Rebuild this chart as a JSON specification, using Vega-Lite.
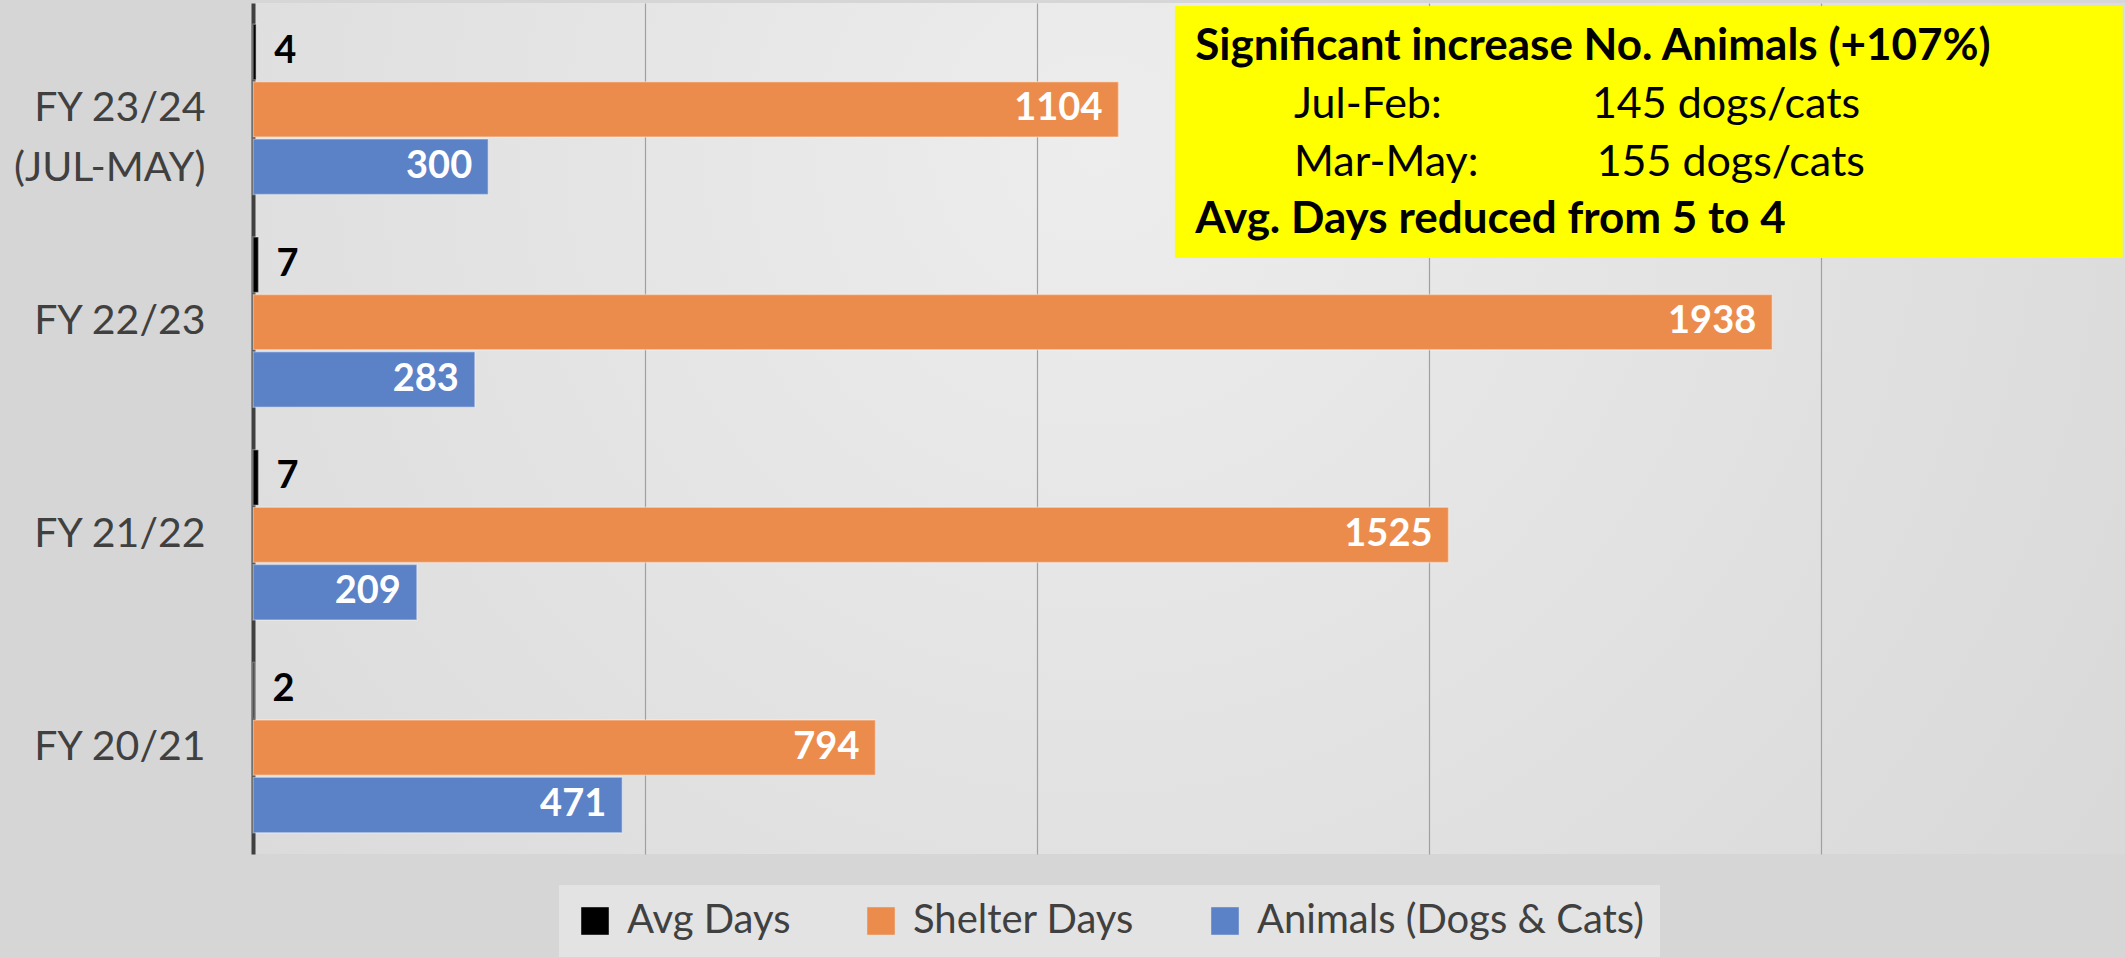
{
  "$schema": "https://vega.github.io/schema/vega-lite/v6.json",
  "width": 1872,
  "height": 851,
  "autosize": {"type": "none"},
  "padding": {"left": 253, "top": 3, "right": 0, "bottom": 104},
  "background": "#d6d6d6",
  "config": {
    "font": "Lato",
    "view": {
      "stroke": null,
      "fill": {
        "gradient": "radial",
        "x1": 0.45, "y1": 0.35, "r1": 0,
        "x2": 0.45, "y2": 0.35, "r2": 0.75,
        "stops": [
          {"offset": 0, "color": "#ededed"},
          {"offset": 1, "color": "#d6d6d6"}
        ]
      }
    }
  },
  "datasets": {
    "bars": [
      {"fy": "FY 23/24 (JUL-MAY)", "series": "Avg Days", "value": 4},
      {"fy": "FY 23/24 (JUL-MAY)", "series": "Shelter Days", "value": 1104},
      {"fy": "FY 23/24 (JUL-MAY)", "series": "Animals (Dogs & Cats)", "value": 300},
      {"fy": "FY 22/23", "series": "Avg Days", "value": 7},
      {"fy": "FY 22/23", "series": "Shelter Days", "value": 1938},
      {"fy": "FY 22/23", "series": "Animals (Dogs & Cats)", "value": 283},
      {"fy": "FY 21/22", "series": "Avg Days", "value": 7},
      {"fy": "FY 21/22", "series": "Shelter Days", "value": 1525},
      {"fy": "FY 21/22", "series": "Animals (Dogs & Cats)", "value": 209},
      {"fy": "FY 20/21", "series": "Avg Days", "value": 2},
      {"fy": "FY 20/21", "series": "Shelter Days", "value": 794},
      {"fy": "FY 20/21", "series": "Animals (Dogs & Cats)", "value": 471}
    ]
  },
  "resolve": {"scale": {"x": "independent", "y": "independent"}},
  "layer": [
    {
      "data": {"name": "bars"},
      "encoding": {
        "y": {
          "field": "fy",
          "type": "nominal",
          "sort": ["FY 23/24 (JUL-MAY)", "FY 22/23", "FY 21/22", "FY 20/21"],
          "scale": {"paddingInner": 0.2, "paddingOuter": 0.1},
          "axis": {
            "title": null,
            "ticks": false,
            "tickSize": 0,
            "labelPadding": 48,
            "labelLimit": 0,
            "labelFont": "Lato",
            "labelFontSize": 41,
            "labelColor": "#404040",
            "labelLineHeight": 60,
            "labelExpr": "datum.value == 'FY 23/24 (JUL-MAY)' ? ['FY 23/24', '(JUL-MAY)'] : datum.value",
            "domainColor": "#404040",
            "domainWidth": 4,
            "grid": false
          }
        },
        "yOffset": {
          "field": "series",
          "type": "nominal",
          "scale": {"domain": ["Avg Days", "Shelter Days", "Animals (Dogs & Cats)"], "paddingInner": 0.035}
        },
        "x": {
          "field": "value",
          "type": "quantitative",
          "scale": {"domain": [0, 2388], "nice": false},
          "axis": {
            "title": null,
            "labels": false,
            "ticks": false,
            "domain": false,
            "grid": true,
            "values": [500, 1000, 1500, 2000],
            "gridColor": "#a0a0a0",
            "gridWidth": 1.2
          }
        }
      },
      "layer": [
        {
          "mark": {"type": "bar", "stroke": "#ffffff", "strokeOpacity": 0.35, "strokeWidth": 1.5},
          "encoding": {
            "color": {
              "field": "series",
              "type": "nominal",
              "scale": {
                "domain": ["Avg Days", "Shelter Days", "Animals (Dogs & Cats)"],
                "range": ["#000000", "#EC8C4C", "#5B81C7"]
              },
              "legend": {
                "title": null,
                "orient": "none",
                "legendX": 306,
                "legendY": 882,
                "direction": "horizontal",
                "symbolType": "square",
                "symbolSize": 760,
                "symbolStrokeWidth": 0,
                "symbolOpacity": 1,
                "labelFont": "Lato",
                "labelFontSize": 40,
                "labelLimit": 0,
                "labelColor": "#404040",
                "labelOffset": 12,
                "columnPadding": 70,
                "padding": 16,
                "fillColor": "#e3e3e3"
              }
            }
          }
        },
        {
          "transform": [{"filter": "datum.series == 'Avg Days'"}],
          "mark": {"type": "text", "align": "left", "baseline": "middle", "dx": 18, "font": "Lato", "fontWeight": "bold", "fontSize": 38, "color": "#000000"},
          "encoding": {"text": {"field": "value", "type": "quantitative"}}
        },
        {
          "transform": [{"filter": "datum.series != 'Avg Days'"}],
          "mark": {"type": "text", "align": "right", "baseline": "middle", "dx": -16, "font": "Lato", "fontWeight": "bold", "fontSize": 38, "color": "#ffffff"},
          "encoding": {"text": {"field": "value", "type": "quantitative"}}
        }
      ]
    },
    {
      "data": {"values": [{}]},
      "encoding": {
        "x": {"datum": 1176, "type": "quantitative", "scale": {"domain": [0, 2388], "nice": false}, "axis": null},
        "y": {"datum": 99.65, "type": "quantitative", "scale": {"domain": [0, 100], "nice": false}, "axis": null}
      },
      "layer": [
        {
          "mark": {"type": "rect", "color": "#FFFF00", "opacity": 1},
          "encoding": {
            "x2": {"datum": 2385},
            "y2": {"datum": 70.04}
          }
        },
        {
          "mark": {"type": "text", "text": "Significant increase No. Animals (+107%)", "align": "left", "baseline": "alphabetic", "font": "Lato", "fontWeight": "bold", "fontSize": 44, "color": "#000000"},
          "encoding": {"x": {"datum": 1202, "type": "quantitative"}, "y": {"datum": 93.3, "type": "quantitative"}}
        },
        {
          "mark": {"type": "text", "text": "Jul-Feb:", "align": "left", "baseline": "alphabetic", "font": "Lato", "fontSize": 43, "color": "#000000"},
          "encoding": {"x": {"datum": 1328, "type": "quantitative"}, "y": {"datum": 86.49, "type": "quantitative"}}
        },
        {
          "mark": {"type": "text", "text": "145 dogs/cats", "align": "left", "baseline": "alphabetic", "font": "Lato", "fontSize": 43, "color": "#000000"},
          "encoding": {"x": {"datum": 1708, "type": "quantitative"}, "y": {"datum": 86.49, "type": "quantitative"}}
        },
        {
          "mark": {"type": "text", "text": "Mar-May:", "align": "left", "baseline": "alphabetic", "font": "Lato", "fontSize": 43, "color": "#000000"},
          "encoding": {"x": {"datum": 1328, "type": "quantitative"}, "y": {"datum": 79.67, "type": "quantitative"}}
        },
        {
          "mark": {"type": "text", "text": "155 dogs/cats", "align": "left", "baseline": "alphabetic", "font": "Lato", "fontSize": 43, "color": "#000000"},
          "encoding": {"x": {"datum": 1714, "type": "quantitative"}, "y": {"datum": 79.67, "type": "quantitative"}}
        },
        {
          "mark": {"type": "text", "text": "Avg. Days reduced from 5 to 4", "align": "left", "baseline": "alphabetic", "font": "Lato", "fontWeight": "bold", "fontSize": 44, "color": "#000000"},
          "encoding": {"x": {"datum": 1202, "type": "quantitative"}, "y": {"datum": 72.97, "type": "quantitative"}}
        }
      ]
    }
  ]
}
